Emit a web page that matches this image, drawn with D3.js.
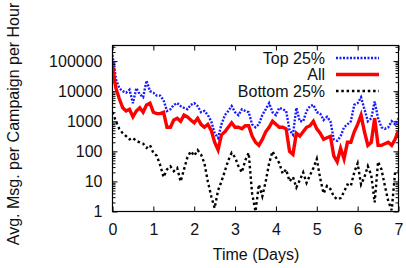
<!DOCTYPE html>
<html>
<head>
<meta charset="utf-8">
<script src="https://cdn.jsdelivr.net/npm/d3@7"></script>
<style>
   body { margin: 0; background: #fff; }
   text { font-family: "Liberation Sans", Arial, Helvetica, sans-serif; fill: #111; }
</style>
</head>
<body>
<div id="chart"></div>
<script>
//--------------------------------------------------------------
// DATA (hours since campaign start, messages per hour)
//--------------------------------------------------------------
var hours = [0, 2, 4, 6, 8, 10, 12, 14, 16, 18, 20, 22,
   24, 26, 28, 30, 32, 34, 36, 38, 40, 42, 44, 46,
   48, 50, 52, 54, 56, 58, 60, 62, 64, 66, 68, 70,
   72, 74, 76, 78, 80, 82, 84, 86, 88, 90, 92, 94,
   96, 98, 100, 102, 104, 106, 108, 110, 112, 114, 116, 118,
   120, 122, 124, 126, 128, 130, 132, 134, 136, 138, 140, 142,
   144, 146, 148, 150, 152, 154, 156, 158, 160, 162, 164, 166,
   168];

var top25 = [160000, 25000, 12600, 10000, 8900, 11200, 4000, 12600, 7900, 6300, 22400, 10000,
   8900, 7100, 7100, 5000, 2200, 2500, 3500, 4000, 3200, 2800, 2500, 3500,
   4000, 3200, 2000, 2200, 1600, 1000, 400, 280, 790, 1600, 2200, 3200,
   2000, 1600, 2500, 2200, 2000, 790, 630, 790, 1600, 2500, 4000, 2000,
   1600, 2800, 2500, 2200, 500, 355, 2800, 1000, 1000, 2200, 3200, 3500,
   2000, 1800, 1100, 1400, 1000, 250, 224, 316, 630, 790, 1000, 3500,
   4000, 6300, 2500, 1000, 1260, 4500, 1260, 630, 560, 630, 1000, 790,
   1260];

var allCampaigns = [63000, 12600, 5600, 2800, 2200, 2500, 1400, 2200, 2800, 2000, 3500, 4000,
   2000, 1800, 1800, 2000, 630, 630, 1100, 1260, 1000, 1600, 1400, 1100,
   890, 1260, 790, 630, 790, 500, 200, 112, 355, 447, 630, 890,
   630, 630, 560, 710, 710, 320, 200, 158, 250, 447, 630, 1000,
   790, 630, 630, 560, 100, 79, 400, 320, 447, 630, 710, 1000,
   560, 400, 250, 282, 316, 71, 45, 126, 56, 200, 200, 447,
   790, 1600, 447, 158, 200, 1260, 158, 158, 178, 200, 158, 251,
   500];

var bottom25 = [2000, 1000, 560, 400, 320, 250, 280, 220, 200, 180, 130, 160,
   89, 71, 35, 14, 25, 32, 22, 28, 10, 25, 63, 100,
   71, 110, 79, 40, 10, 3.2, 1.3, 5, 10, 22, 50, 89,
   63, 32, 20, 50, 89, 4, 1, 7.9, 3.2, 10, 40, 100,
   63, 40, 18, 25, 10, 14, 6.3, 11, 20, 8.9, 16, 28,
   56, 12.6, 4, 7.1, 5.6, 3.2, 2.5, 2.8, 4.5, 7.9, 7.1, 20,
   40, 7.9, 14, 32, 16, 2, 45, 25, 7.1, 2.2, 1.1, 20,
   22];

var xTickHours = [0, 24, 48, 72, 96, 120, 144, 168];
var yTickValues = [1, 10, 100, 1000, 10000, 100000];
var seriesNames = ["Top 25%", "All", "Bottom 25%"];

//--------------------------------------------------------------
// CHART SIZE PARAMETERS
//--------------------------------------------------------------
var width = 406;
var height = 268;
var plot = { left: 112.5, right: 398.5, top: 45.5, bottom: 211.5 };

var svg = d3.select("#chart").append("svg")
   .attr("width", width)
   .attr("height", height);

// scales
var xScale = d3.scaleLinear()
   .domain([0, 168])
   .range([plot.left, plot.right]);

var yScale = d3.scaleLog()
   .domain([1, 330000])
   .range([plot.bottom, plot.top]);

// minor log ticks 2..9 per decade
var minorTicks = [];
yTickValues.forEach(function(d) {
   for (var k = 2; k <= 9; k++) {
      if (d * k < 330000) minorTicks.push(d * k);
   }
});

//--------------------------------------------------------------
// AXES (ticks point inward, mirrored on top/right like gnuplot)
//--------------------------------------------------------------
function styleAxis(g) {
   g.select(".domain").remove();
   g.selectAll("line").attr("stroke", "#000").attr("stroke-width", 1);
   g.selectAll("text").attr("font-size", 16).attr("fill", "#111");
}

svg.append("g")
   .attr("transform", `translate(0, ${plot.bottom})`)
   .call(d3.axisBottom(xScale).tickValues(xTickHours).tickSize(-5).tickPadding(12)
      .tickFormat(d => d / 24))
   .call(styleAxis);

svg.append("g")
   .attr("transform", `translate(0, ${plot.top})`)
   .call(d3.axisTop(xScale).tickValues(xTickHours).tickSize(-5).tickFormat(""))
   .call(styleAxis);

svg.append("g")
   .attr("transform", `translate(${plot.left}, 0)`)
   .call(d3.axisLeft(yScale).tickValues(yTickValues).tickSize(-5).tickPadding(10)
      .tickFormat(d3.format("d")))
   .call(styleAxis);

svg.append("g")
   .attr("transform", `translate(${plot.left}, 0)`)
   .call(d3.axisLeft(yScale).tickValues(minorTicks).tickSize(-3).tickFormat(""))
   .call(styleAxis);

svg.append("g")
   .attr("transform", `translate(${plot.right}, 0)`)
   .call(d3.axisRight(yScale).tickValues(yTickValues).tickSize(-5).tickFormat(""))
   .call(styleAxis);

svg.append("g")
   .attr("transform", `translate(${plot.right}, 0)`)
   .call(d3.axisRight(yScale).tickValues(minorTicks).tickSize(-3).tickFormat(""))
   .call(styleAxis);

//--------------------------------------------------------------
// LINES
//--------------------------------------------------------------
svg.append("clipPath").attr("id", "plotClip")
   .append("rect")
   .attr("x", plot.left).attr("y", plot.top)
   .attr("width", plot.right - plot.left)
   .attr("height", plot.bottom - plot.top);

var line = d3.line()
   .x((d, i) => xScale(hours[i]))
   .y(d => yScale(d));

var styles = [
   { data: top25, color: "#1a1aff", width: 2.4, dash: "2,1.5" },
   { data: allCampaigns, color: "#ff0000", width: 3.4, dash: null },
   { data: bottom25, color: "#000000", width: 2.4, dash: "2.5,2.8" }
];

var lineGroup = svg.append("g").attr("clip-path", "url(#plotClip)");
// draw bottom first, then top, then all on top
[2, 0, 1].forEach(function(k) {
   var s = styles[k];
   lineGroup.append("path")
      .attr("d", line(s.data))
      .attr("fill", "none")
      .attr("stroke", s.color)
      .attr("stroke-width", s.width)
      .attr("stroke-dasharray", s.dash)
      .attr("stroke-linejoin", "miter");
});

// frame
svg.append("rect")
   .attr("x", plot.left).attr("y", plot.top)
   .attr("width", plot.right - plot.left)
   .attr("height", plot.bottom - plot.top)
   .attr("fill", "none")
   .attr("stroke", "#000")
   .attr("stroke-width", 1.2);

//--------------------------------------------------------------
// LEGEND
//--------------------------------------------------------------
var legendY = [63.5, 80, 96.5];
seriesNames.forEach(function(name, i) {
   var s = styles[i];
   svg.append("text")
      .attr("x", 325)
      .attr("y", legendY[i])
      .attr("text-anchor", "end")
      .attr("font-size", 16)
      .text(name);
   svg.append("line")
      .attr("x1", 336).attr("x2", 379)
      .attr("y1", legendY[i] - 5.5).attr("y2", legendY[i] - 5.5)
      .attr("stroke", s.color)
      .attr("stroke-width", s.width)
      .attr("stroke-dasharray", s.dash);
});

//--------------------------------------------------------------
// AXIS TITLES
//--------------------------------------------------------------
svg.append("text")
   .attr("x", 256)
   .attr("y", 259.5)
   .attr("text-anchor", "middle")
   .attr("font-size", 16)
   .text("Time (Days)");

svg.append("text")
   .attr("transform", "translate(19, 124) rotate(-90)")
   .attr("text-anchor", "middle")
   .attr("font-size", 16)
   .text("Avg. Msg. per Campaign per Hour");
</script>
</body>
</html>
